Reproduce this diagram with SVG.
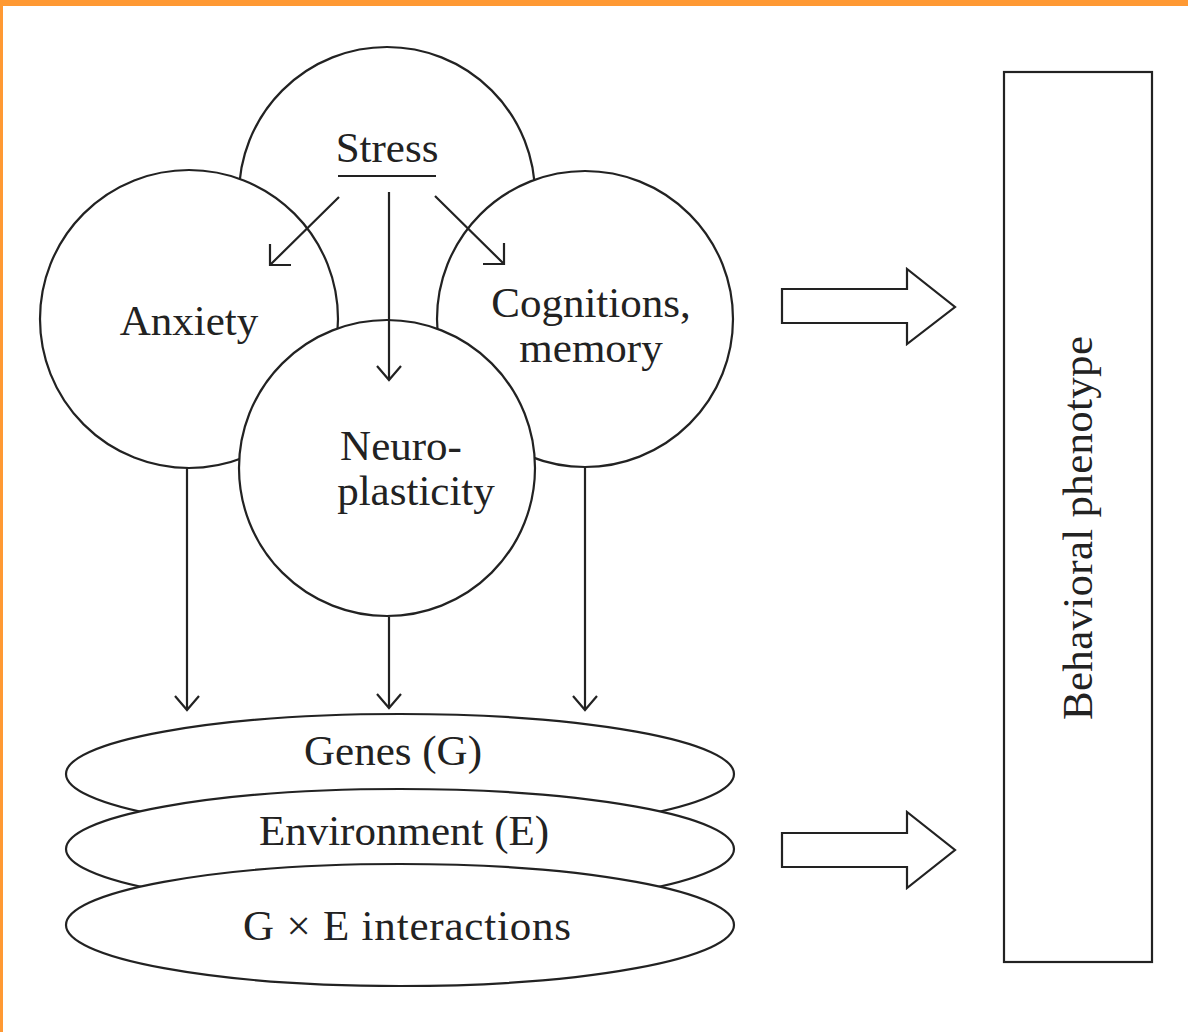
<svg xmlns="http://www.w3.org/2000/svg" width="1188" height="1032" viewBox="0 0 1188 1032">
<style>
.s{fill:#fff;stroke:#222;stroke-width:2.2}
.l{fill:none;stroke:#222;stroke-width:2.2}
.t{font-family:"Liberation Serif","Times New Roman",serif;font-size:43px;fill:#222;text-anchor:middle}
</style>
<rect x="0" y="0" width="1188" height="1032" fill="#fff"/>
<rect x="0" y="0" width="1188" height="6" fill="#ff9933"/>
<rect x="0" y="0" width="3" height="1032" fill="#ff9933"/>
<g id="stress"><circle class="s" cx="387" cy="195" r="148"/></g>
<g id="anxiety"><circle class="s" cx="189" cy="319" r="149"/><text class="t" x="189" y="335">Anxiety</text></g>
<g id="cognitions"><circle class="s" cx="585" cy="319" r="148"/><text class="t" x="591" y="317">Cognitions,</text><text class="t" x="591" y="362">memory</text></g>
<g id="neuroplasticity"><circle class="s" cx="387" cy="468" r="148"/><text class="t" x="401" y="460">Neuro-</text><text class="t" x="416" y="505">plasticity</text></g>
<g id="stress-label"><text class="t" x="387" y="162">Stress</text><line class="l" x1="338" y1="176" x2="436" y2="176"/></g>
<g id="genes"><ellipse class="s" cx="400" cy="774" rx="334" ry="60"/><text class="t" x="393" y="765">Genes (G)</text></g>
<g id="environment"><ellipse class="s" cx="400" cy="849" rx="334" ry="60"/><text class="t" x="404" y="845">Environment (E)</text></g>
<g id="gxe"><ellipse class="s" cx="400" cy="925" rx="334" ry="61"/><text class="t" x="407" y="940" textLength="328" lengthAdjust="spacing">G × E interactions</text></g>
<g id="phenotype"><rect class="s" x="1004" y="72" width="148" height="890"/><text class="t" transform="translate(1092,528) rotate(-90)" textLength="384" lengthAdjust="spacing">Behavioral phenotype</text></g>
<g id="connectors">
<path class="l" d="M339,197 L270,265 M291,265 L270,265 L270,244"/>
<path class="l" d="M435,196 L504,264 M483,264 L504,264 L504,243"/>
<path class="l" d="M389,192 L389,380 M377,366 L389,380 L401,366"/>
<path class="l" d="M187,468 L187,710 M175,696 L187,710 L199,696"/>
<path class="l" d="M389,617 L389,708 M377,694 L389,708 L401,694"/>
<path class="l" d="M585,468 L585,710 M573,696 L585,710 L597,696"/>
<path class="s" d="M782,289 L907,289 L907,269 L955,307 L907,344 L907,323 L782,323 Z"/>
<path class="s" d="M782,833 L907,833 L907,812 L955,850 L907,888 L907,867 L782,867 Z"/>
</g>
</svg>
